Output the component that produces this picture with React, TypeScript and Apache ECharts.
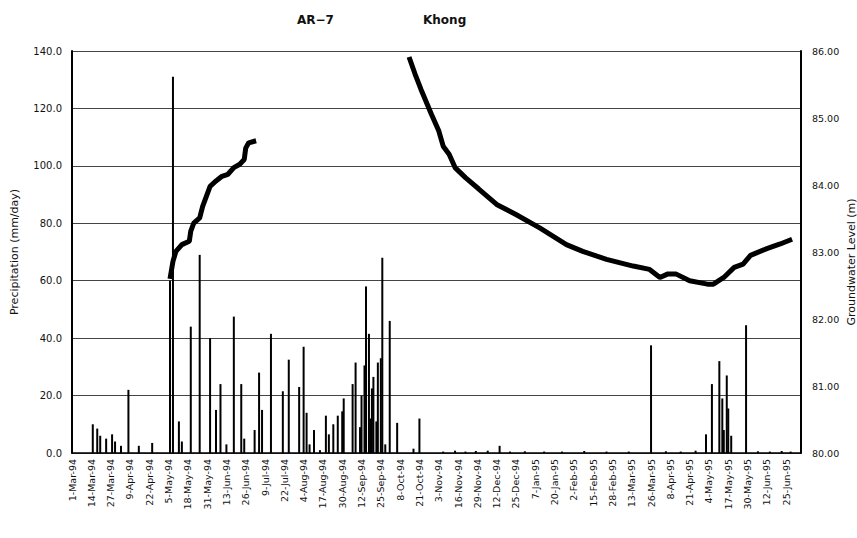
import React, { useEffect, useRef } from 'react';
import * as echarts from 'echarts';

const tickLabels = [
  '1-Mar-94', '14-Mar-94', '27-Mar-94', '9-Apr-94', '22-Apr-94', '5-May-94', '18-May-94', '31-May-94',
  '13-Jun-94', '26-Jun-94', '9-Jul-94', '22-Jul-94', '4-Aug-94', '17-Aug-94', '30-Aug-94', '12-Sep-94',
  '25-Sep-94', '8-Oct-94', '21-Oct-94', '3-Nov-94', '16-Nov-94', '29-Nov-94', '12-Dec-94', '25-Dec-94',
  '7-Jan-95', '20-Jan-95', '2-Feb-95', '15-Feb-95', '28-Feb-95', '13-Mar-95', '26-Mar-95', '8-Apr-95',
  '21-Apr-95', '4-May-95', '17-May-95', '30-May-95', '12-Jun-95', '25-Jun-95',
];

const precipDates = [
  '1994-03-15', '1994-03-18', '1994-03-20', '1994-03-24', '1994-03-28', '1994-03-30', '1994-04-03', '1994-04-08',
  '1994-04-15', '1994-04-24', '1994-05-06', '1994-05-08', '1994-05-12', '1994-05-14', '1994-05-20', '1994-05-26',
  '1994-06-02', '1994-06-06', '1994-06-09', '1994-06-13', '1994-06-18', '1994-06-23', '1994-06-25', '1994-07-02',
  '1994-07-05', '1994-07-07', '1994-07-13', '1994-07-21', '1994-07-25', '1994-08-01', '1994-08-04', '1994-08-06',
  '1994-08-08', '1994-08-11', '1994-08-15', '1994-08-19', '1994-08-21', '1994-08-24', '1994-08-27', '1994-08-30',
  '1994-08-31', '1994-09-06', '1994-09-08', '1994-09-11', '1994-09-12', '1994-09-14', '1994-09-15', '1994-09-17',
  '1994-09-18', '1994-09-19', '1994-09-20', '1994-09-22', '1994-09-23', '1994-09-25', '1994-09-26', '1994-09-28',
  '1994-10-01', '1994-10-06', '1994-10-17', '1994-10-21', '1994-11-06', '1994-11-14', '1994-11-21', '1994-11-28',
  '1994-12-06', '1994-12-14', '1994-12-21', '1994-12-31', '1995-01-13', '1995-01-25', '1995-02-09', '1995-02-24',
  '1995-03-11', '1995-03-26', '1995-04-05', '1995-04-15', '1995-04-25', '1995-05-02', '1995-05-06', '1995-05-11',
  '1995-05-13', '1995-05-14', '1995-05-16', '1995-05-17', '1995-05-19', '1995-05-29', '1995-06-06', '1995-06-14',
  '1995-06-22', '1995-06-28',
];
const precipValues = [
  10, 8.5, 6, 5, 6.5, 4, 2.5, 22,
  2.5, 3.5, 60, 131, 11, 4, 44, 69,
  40, 15, 24, 3, 47.5, 24, 5, 8,
  28, 15, 41.5, 21.5, 32.5, 23, 37, 14,
  3, 8, 1, 13, 6.5, 10, 13, 14.5,
  19, 24, 31.5, 9, 20, 30.5, 58, 41.5,
  12, 22.5, 26.5, 11, 31.5, 33, 68, 3,
  46, 10.5, 1.5, 12, 0.5, 0.8, 0.5, 0.7,
  0.8, 2.5, 0.5, 0.6, 0.5, 0.5, 0.7, 0.5,
  0.5, 37.5, 0.6, 0.5, 0.8, 6.5, 24, 32,
  19, 8, 27, 15.5, 6, 44.5, 0.6, 0.5,
  0.7, 0.5,
];

const gwDates1 = [
  '1994-05-06', '1994-05-08', '1994-05-10', '1994-05-14', '1994-05-19', '1994-05-20', '1994-05-22', '1994-05-26',
  '1994-05-28', '1994-05-31', '1994-06-02', '1994-06-06', '1994-06-10', '1994-06-14', '1994-06-18', '1994-06-22',
  '1994-06-25', '1994-06-26', '1994-06-28', '1994-07-03',
];
const gwLevels1 = [
  82.6, 82.86, 83.01, 83.11, 83.16, 83.31, 83.43, 83.51,
  83.68, 83.86, 83.98, 84.06, 84.13, 84.16, 84.26, 84.31,
  84.38, 84.55, 84.63, 84.66,
];

const gwDates2 = [
  '1994-10-14', '1994-10-18', '1994-10-22', '1994-10-29', '1994-11-03', '1994-11-06', '1994-11-10', '1994-11-14',
  '1994-11-21', '1994-11-30', '1994-12-12', '1994-12-25', '1995-01-10', '1995-01-28', '1995-02-08', '1995-02-24',
  '1995-03-14', '1995-03-25', '1995-04-01', '1995-04-06', '1995-04-12', '1995-04-21', '1995-05-03', '1995-05-07',
  '1995-05-14', '1995-05-21', '1995-05-27', '1995-06-01', '1995-06-12', '1995-06-21', '1995-06-29',
];
const gwLevels2 = [
  85.91, 85.66, 85.43, 85.06, 84.81, 84.58, 84.46, 84.26,
  84.11, 83.94, 83.71, 83.56, 83.36, 83.11, 83.01, 82.89,
  82.79, 82.74, 82.62, 82.67, 82.67, 82.57, 82.52, 82.52,
  82.62, 82.77, 82.82, 82.95, 83.05, 83.12, 83.19,
];

const BASE = Date.UTC(1994, 2, 1);
const dayOf = (s: string) => {
  const [y, m, d] = s.split('-').map(Number);
  return Math.round((Date.UTC(y, m - 1, d) - BASE) / 86400000);
};

export default function App() {
  const ref = useRef<HTMLDivElement>(null);
  useEffect(() => {
    document.body.style.margin = '0';
    const chart = echarts.init(ref.current!, null, { renderer: 'svg' });
    const font = 'DejaVu Sans';
    const ink = '#111';
    chart.setOption({
      animation: false,
      backgroundColor: '#fff',
      textStyle: { fontFamily: font },
      title: [
        { text: 'AR−7', left: 292, top: 9, textStyle: { fontSize: 12, fontWeight: 'bold', color: ink, fontFamily: font } },
        { text: 'Khong', left: 418, top: 9, textStyle: { fontSize: 12, fontWeight: 'bold', color: ink, fontFamily: font } },
      ],
      grid: { left: 72, right: 56, top: 51, bottom: 85 },
      xAxis: {
        type: 'value', min: 0, max: 491, interval: 13,
        splitLine: { show: false }, axisTick: { show: false },
        axisLine: { lineStyle: { color: '#000', width: 1.5 } },
        axisLabel: {
          rotate: 90, fontSize: 9.5, color: ink, margin: 6, showMaxLabel: false,
          formatter: (v: number) => {
            const i = v / 13;
            return Number.isInteger(i) && i < tickLabels.length ? tickLabels[i] : '';
          },
        },
      },
      yAxis: [
        {
          type: 'value', min: 0, max: 140, interval: 20, position: 'left',
          name: 'Precipitation (mm/day)', nameLocation: 'middle', nameGap: 52, nameRotate: 90,
          nameTextStyle: { fontSize: 11, color: ink, fontFamily: font },
          axisLine: { show: true, lineStyle: { color: '#000', width: 2 } },
          axisTick: { show: false },
          axisLabel: { formatter: (v: number) => v.toFixed(1), fontSize: 10, color: ink, margin: 10 },
          splitLine: { show: true, lineStyle: { color: '#444', width: 1 } },
        },
        {
          type: 'value', min: 80, max: 86, interval: 1, position: 'right',
          axisLine: { show: true, lineStyle: { color: '#000', width: 2 } },
          axisTick: { show: false },
          axisLabel: { formatter: (v: number) => v.toFixed(2), fontSize: 9.5, color: ink, margin: 11 },
          splitLine: { show: false },
        },
      ],
      graphic: [
        {
          type: 'text', x: 851, y: 262, rotation: Math.PI / 2,
          style: { text: 'Groundwater Level (m)', fontSize: 11, fill: ink, align: 'center', verticalAlign: 'middle', fontFamily: font },
        },
      ],
      series: [
        {
          type: 'bar', yAxisIndex: 0, barWidth: 2, itemStyle: { color: '#000' },
          data: precipDates.map((d, i) => [dayOf(d), precipValues[i]]),
        },
        {
          type: 'line', yAxisIndex: 1, symbol: 'none', lineStyle: { color: '#000', width: 5 },
          data: gwDates1.map((d, i) => [dayOf(d), gwLevels1[i]]),
        },
        {
          type: 'line', yAxisIndex: 1, symbol: 'none', lineStyle: { color: '#000', width: 5 },
          data: gwDates2.map((d, i) => [dayOf(d), gwLevels2[i]]),
        },
      ],
    });
    return () => chart.dispose();
  }, []);
  return <div ref={ref} style={{ width: 857, height: 538 }} />;
}
